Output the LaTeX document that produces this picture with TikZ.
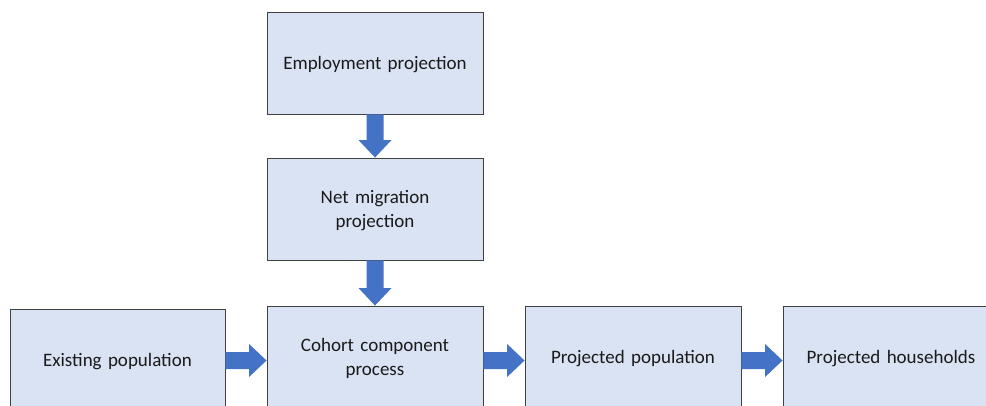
\documentclass[tikz,border=0pt]{standalone}
\usepackage{fontspec}
\setmainfont{Carlito}
\usetikzlibrary{calc}
\definecolor{boxfill}{HTML}{DAE3F3}
\definecolor{boxline}{HTML}{404040}
\definecolor{arrowfill}{HTML}{4472C4}
\definecolor{txt}{HTML}{1A1A1A}
\newcommand\vflow[2]{%
  \fill[flow] ($(#1.south)+(-8.5,0)$) -- ($(#1.south)+(8.5,0)$)
    -- ($(#2.north)+(8.5,-17.5)$) -- ($(#2.north)+(16.5,-17.5)$)
    -- (#2.north)
    -- ($(#2.north)+(-16.5,-17.5)$) -- ($(#2.north)+(-8.5,-17.5)$) -- cycle;}
\newcommand\hflow[2]{%
  \fill[flow] ($(#1.east |- row)+(0,-8.5)$) -- ($(#2.west |- row)+(-17.5,-8.5)$)
    -- ($(#2.west |- row)+(-17.5,-16.5)$) -- (#2.west |- row)
    -- ($(#2.west |- row)+(-17.5,16.5)$) -- ($(#2.west |- row)+(-17.5,8.5)$)
    -- ($(#1.east |- row)+(0,8.5)$) -- cycle;}
\begin{document}
\begin{tikzpicture}[x=1pt,y=-1pt,
  box/.style={draw=boxline, line width=0.9pt, fill=boxfill,
    minimum width=216pt, minimum height=102pt, inner sep=0pt,
    align=center, text=txt, text width=210pt, text depth=0pt,
    font=\fontsize{19}{23.5}\selectfont},
  twoline/.style={text depth=24pt},
  flow/.style={fill=arrowfill}]
\clip (0,0) rectangle (986,406);
\fill[white] (0,0) rectangle (986,406);
\node[box] (emp) at (375,63) {Employment projection};
\node[box, twoline] (net) at (375,209) {Net migration\\projection};
\node[box, twoline] (coh) at (375,357) {Cohort component\\process};
\node[box, minimum width=215pt] (ex) at (117.5,360) {Existing population};
\node[box] (pp) at (633,357) {Projected population};
\node[box] (ph) at (891,357) {Projected households};
\coordinate (row) at (0,360.5);
\vflow{emp}{net}
\vflow{net}{coh}
\hflow{ex}{coh}
\hflow{coh}{pp}
\hflow{pp}{ph}
\end{tikzpicture}
\end{document}
